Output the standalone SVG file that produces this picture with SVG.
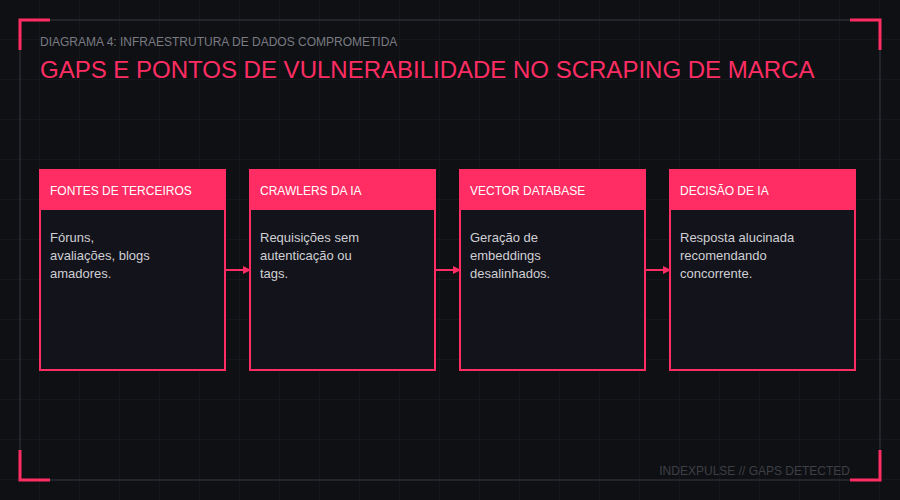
<svg xmlns="http://www.w3.org/2000/svg" width="900" height="500" viewBox="0 0 900 500">
<defs>
<pattern id="grid" width="40" height="40" patternUnits="userSpaceOnUse">
<path d="M40 0V40M0 40H40" fill="none" stroke="#1b1d23" stroke-width="1"/>
</pattern>
<marker id="arr" viewBox="0 0 10 10" refX="10" refY="5" markerWidth="8" markerHeight="8" markerUnits="userSpaceOnUse" orient="auto">
<path d="M0 0L10 5L0 10Z" fill="#ff2d63"/>
</marker>
<style>
.f{font-family:"Liberation Sans",Arial,sans-serif}
.box{fill:#13141b;stroke:#ff2d63;stroke-width:2}
.hd{fill:#ff2d63}
.ht{font-size:12px;fill:#ffffff}
.bt{font-size:13px;fill:#cfcfd4}
.br{fill:none;stroke:#ff2d63;stroke-width:3}
.cn{fill:none;stroke:#ff2d63;stroke-width:2}
</style>
</defs>
<rect width="900" height="500" fill="#0f1014"/>
<rect width="900" height="500" fill="url(#grid)"/>
<rect x="20" y="20" width="860" height="460" fill="none" stroke="#2a2b31" stroke-width="1.5"/>
<path class="br" d="M20 50V20H50"/>
<path class="br" d="M850 20H880V50"/>
<path class="br" d="M20 450V480H50"/>
<path class="br" d="M850 480H880V450"/>
<text class="f" x="40" y="46" font-size="12" fill="#7a7b82">DIAGRAMA 4: INFRAESTRUTURA DE DADOS COMPROMETIDA</text>
<text class="f" x="40" y="78" font-size="24" fill="#ff2d63">GAPS E PONTOS DE VULNERABILIDADE NO SCRAPING DE MARCA</text>
<g id="connectors">
<line class="cn" x1="225" y1="270" x2="251" y2="270" marker-end="url(#arr)"/>
<line class="cn" x1="435" y1="270" x2="461" y2="270" marker-end="url(#arr)"/>
<line class="cn" x1="645" y1="270" x2="671" y2="270" marker-end="url(#arr)"/>
</g>
<g id="node1">
<rect class="box" x="40" y="170" width="185" height="200"/>
<rect class="hd" x="40" y="170" width="185" height="40"/>
<text class="f ht" x="50" y="195">FONTES DE TERCEIROS</text>
<text class="f bt" x="50" y="242">Fóruns,</text>
<text class="f bt" x="50" y="260">avaliações, blogs</text>
<text class="f bt" x="50" y="278">amadores.</text>
</g>
<g id="node2">
<rect class="box" x="250" y="170" width="185" height="200"/>
<rect class="hd" x="250" y="170" width="185" height="40"/>
<text class="f ht" x="260" y="195">CRAWLERS DA IA</text>
<text class="f bt" x="260" y="242">Requisições sem</text>
<text class="f bt" x="260" y="260">autenticação ou</text>
<text class="f bt" x="260" y="278">tags.</text>
</g>
<g id="node3">
<rect class="box" x="460" y="170" width="185" height="200"/>
<rect class="hd" x="460" y="170" width="185" height="40"/>
<text class="f ht" x="470" y="195">VECTOR DATABASE</text>
<text class="f bt" x="470" y="242">Geração de</text>
<text class="f bt" x="470" y="260">embeddings</text>
<text class="f bt" x="470" y="278">desalinhados.</text>
</g>
<g id="node4">
<rect class="box" x="670" y="170" width="185" height="200"/>
<rect class="hd" x="670" y="170" width="185" height="40"/>
<text class="f ht" x="680" y="195">DECISÃO DE IA</text>
<text class="f bt" x="680" y="242">Resposta alucinada</text>
<text class="f bt" x="680" y="260">recomendando</text>
<text class="f bt" x="680" y="278">concorrente.</text>
</g>
<text class="f" x="850" y="475" font-size="12" fill="#3e3f46" text-anchor="end">INDEXPULSE // GAPS DETECTED</text>
</svg>
